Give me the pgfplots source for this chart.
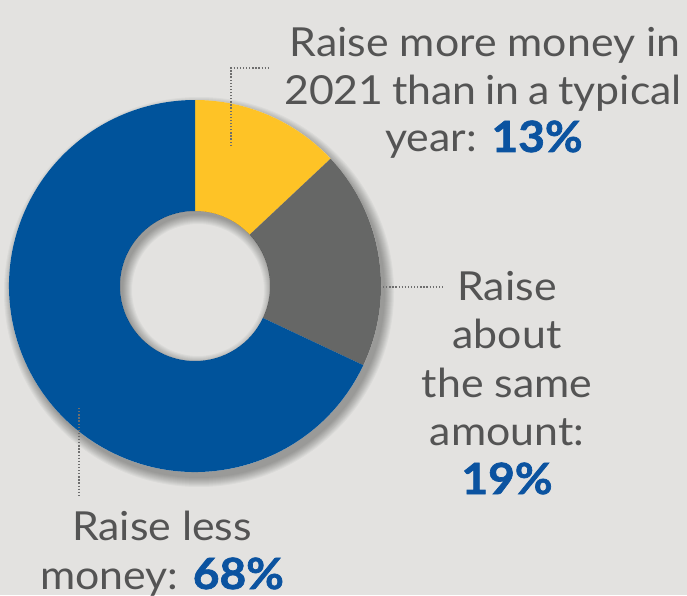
\documentclass[border=0pt]{standalone}
\usepackage{pgfplots}
\pgfplotsset{compat=1.18}
\usepackage{pgfplotstable}
\usepackage{fontspec}
\setmainfont{Lato}[FakeStretch=1.07]

\definecolor{bg}{HTML}{E3E2E0}
\definecolor{cyellow}{HTML}{FEC326}
\definecolor{cgray}{HTML}{666766}
\definecolor{cblue}{HTML}{00539B}
\definecolor{txt}{HTML}{545454}
\definecolor{num}{HTML}{0B53A0}
\definecolor{lead}{HTML}{6E6E6E}

% share of respondents, percent (clockwise from 12 o'clock)
\pgfplotstableread{
share
13
19
68
}\donutdata

\pgfplotstablegetelem{0}{share}\of\donutdata \let\sA\pgfplotsretval
\pgfplotstablegetelem{1}{share}\of\donutdata \let\sB\pgfplotsretval
\pgfplotstablegetelem{2}{share}\of\donutdata \let\sC\pgfplotsretval
\pgfmathsetmacro{\aA}{90}
\pgfmathsetmacro{\aB}{90-3.6*\sA}
\pgfmathsetmacro{\aC}{\aB-3.6*\sB}
\pgfmathsetmacro{\aD}{\aC-3.6*\sC}

\def\cx{195}\def\cy{309}
\def\Ro{186}\def\Ri{75}

% slice: start angle, end angle (clockwise), colour
\newcommand{\donutslice}[3]{%
  \fill[#3] (axis cs:{\cx+\Ro*cos(#1)},{\cy+\Ro*sin(#1)})
    arc[start angle=#1, end angle=#2, radius=\Ro pt]
    -- (axis cs:{\cx+\Ri*cos(#2)},{\cy+\Ri*sin(#2)})
    arc[start angle=#2, end angle=#1, radius=\Ri pt] -- cycle;}

\newcommand{\lbl}[3]{\node[anchor=base, inner sep=0pt, text=txt,
  font=\fontsize{40}{47}\selectfont] at (axis cs:#1,#2) {#3};}
\newcommand{\pct}[1]{{\color{num}\fontsize{43}{47}\selectfont\bfseries
  \addfontfeature{FakeBold=1.6}#1}}

\begin{document}
\begin{tikzpicture}
\begin{axis}[
  x=1pt, y=1pt,
  xmin=0, xmax=687, ymin=0, ymax=595,
  hide axis, clip=false,
  scale only axis,
]
  \fill[bg] (axis cs:0,0) rectangle (axis cs:687,595);

  % soft outer shadow
  \pgfplotsinvokeforeach{0,...,9}{
    \fill[black, opacity=0.035] (axis cs:\cx+4,\cy-6) circle[radius={\Ro+9-#1}];
  }

  \fill[bg] (axis cs:\cx,\cy) circle[radius=\Ro];
  \donutslice{\aA}{\aB}{cyellow}
  \donutslice{\aB}{\aC}{cgray}
  \donutslice{\aC}{\aD}{cblue}

  % inner shadow of the hole
  \begin{scope}
    \clip (axis cs:\cx,\cy) circle[radius=\Ri];
    \pgfplotsinvokeforeach{0,...,9}{
      \fill[black, opacity=0.035, even odd rule]
        (axis cs:\cx,\cy) circle[radius=\Ri+20]
        (axis cs:\cx+3,\cy-4) circle[radius={\Ri-9+#1}];
    }
  \end{scope}

  % leader lines
  \draw[lead, line width=1.3pt, dash pattern=on 1.3pt off 1.8pt]
    (axis cs:231,449) -- (axis cs:231,527) -- (axis cs:270,527);
  \draw[lead, line width=1.3pt, dash pattern=on 1.3pt off 1.8pt]
    (axis cs:383,308) -- (axis cs:443,308);
  \draw[lead, line width=1.3pt, dash pattern=on 1.3pt off 1.8pt]
    (axis cs:79,187) -- (axis cs:79,100);

  % labels
  \lbl{485}{538}{Raise more money in}
  \lbl{483}{490}{\spaceskip=0.8\fontdimen2\font 2021 than in a typical}
  \lbl{484}{443}{year: \pct{13\%}}

  \lbl{507}{295}{Raise}
  \lbl{507}{247}{about}
  \lbl{507}{198}{the same}
  \lbl{507}{150}{amount:}
  \lbl{507}{101}{\pct{19\%}}

  \lbl{162}{55}{Raise less}
  \lbl{162}{6}{money: \pct{68\%}}

  \coordinate (ll) at (axis cs:0,0);
  \coordinate (ur) at (axis cs:687,595);
\end{axis}
\pgfresetboundingbox
\useasboundingbox (ll) rectangle (ur);
\end{tikzpicture}
\end{document}
